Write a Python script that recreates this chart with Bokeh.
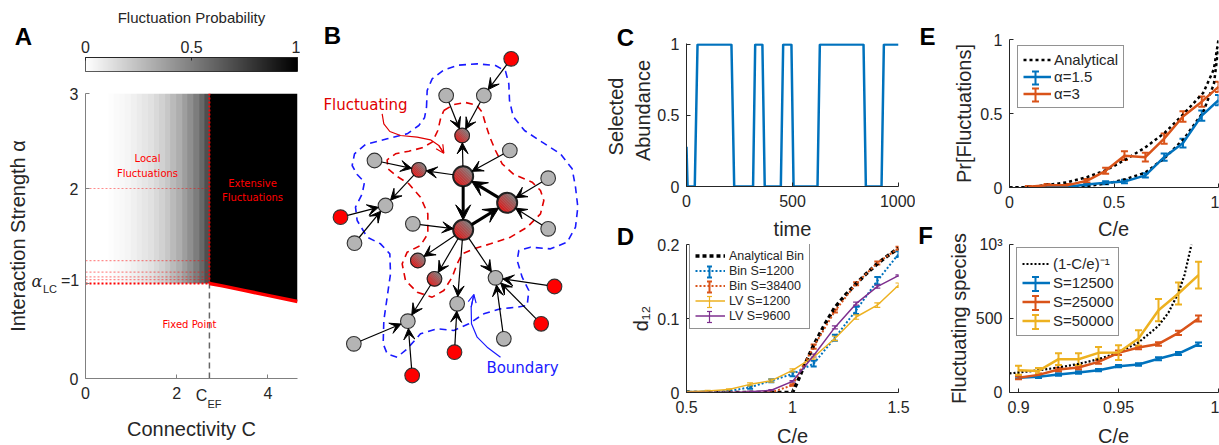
import math
import numpy as np
from bokeh.plotting import figure
from bokeh.layouts import row, column
from bokeh.models import (Range1d, Label, Legend, LegendItem, Whisker, TeeHead,
                          ColumnDataSource, FixedTicker, LinearColorMapper, Arrow,
                          VeeHead, OpenHead, GridBox)
from bokeh.palettes import Greys256
from bokeh.embed import file_html
from bokeh.resources import INLINE

FONT = "Liberation Sans"
DFONT = "DejaVu Sans"
AX = "#262626"
BLUE, ORANGE, YELLOW, PURPLE = "#0072BD", "#D95319", "#EDB120", "#7E2F8E"

# ======================= DATA =======================
# --- A: phase diagram ---
C_max = 4.65
C_EF = 2.718
alpha_LC = 1.0
alpha_max = 3.0
grad_C = [0.000, 0.125, 0.250, 0.375, 0.500, 0.625, 0.750, 0.875, 1.000, 1.125, 1.250,
          1.375, 1.500, 1.625, 1.750, 1.875, 2.000, 2.125, 2.250, 2.375, 2.500, 2.625]
grad_prob = [0.0, 0.0, 0.0, 0.0, 0.01, 0.02, 0.03, 0.04, 0.06, 0.08, 0.10,
             0.12, 0.15, 0.18, 0.22, 0.27, 0.32, 0.38, 0.44, 0.51, 0.59, 0.69]
bound_C = [2.718, 3.0, 3.5, 4.0, 4.65]
bound_alpha = [1.0, 0.975, 0.925, 0.875, 0.81]
local_alpha = [2.0, 1.24, 1.12, 1.07, 1.04, 1.0]
cbar_ticks = [0, 0.5, 1]

# --- B: network diagram (diagram units) ---
node_x = [632, 437, 550, 485, 628, 222, 355, 488, 743, 620, 255, 120, 337, 488,
          743, 162, 352, 402, 585, 762, 470, 322, 722, 160, 610, 462, 335]
node_y = [85, 195, 195, 315, 360, 390, 418, 437, 443, 517, 525, 560, 580, 598,
          595, 638, 690, 745, 742, 768, 820, 872, 880, 940, 925, 965, 1035]
node_kind = ["red", "gray", "gray", "fluct", "gray", "gray", "fluct", "hub", "gray",
             "hub", "gray", "red", "gray", "hub", "gray", "gray", "fluct", "fluct",
             "gray", "red", "gray", "gray", "red", "gray", "gray", "red", "red"]
edge_from = [0, 1, 2, 7, 4, 7, 5, 6, 11, 15, 7, 13, 9, 8, 14, 12, 13, 13, 13, 13,
             17, 23, 26, 25, 19, 22, 24]
edge_to = [2, 3, 3, 3, 7, 6, 6, 10, 10, 10, 13, 9, 7, 9, 9, 13, 16, 17, 20, 18,
           21, 21, 21, 20, 18, 18, 18]
edge_heavy = [0, 0, 0, 0, 0, 0, 0, 0, 0, 0, 1, 1, 1, 0, 0, 0, 0, 0, 0, 0,
              0, 0, 0, 0, 0, 0, 0]
fluct_x = [430, 460, 495, 528, 545, 555, 568, 585, 605, 640, 695, 720, 730, 720, 680,
           630, 570, 520, 485, 470, 455, 430, 395, 350, 315, 305, 320, 360, 382, 382,
           360, 325, 290, 262, 260, 285, 325, 365, 395, 412, 420, 430]
fluct_y = [240, 222, 216, 224, 245, 280, 320, 360, 400, 432, 455, 480, 510, 550, 590,
           620, 640, 655, 670, 700, 740, 780, 800, 785, 750, 700, 665, 645, 610, 550,
           500, 460, 438, 415, 388, 370, 362, 352, 335, 300, 265, 240]
bound_x = [378, 380, 395, 430, 475, 530, 585, 615, 625, 627, 638, 672, 725, 780, 815,
           825, 832, 825, 800, 750, 690, 655, 650, 665, 685, 680, 650, 600, 550, 505,
           460, 410, 360, 320, 290, 260, 248, 250, 260, 270, 268, 240, 200, 170, 165,
           185, 192, 170, 155, 162, 195, 260, 320, 355, 372, 378]
bound_y = [230, 180, 145, 118, 104, 100, 105, 122, 160, 210, 258, 300, 335, 370, 415,
           470, 530, 590, 635, 655, 650, 660, 690, 740, 780, 825, 830, 835, 850, 880,
           900, 895, 910, 955, 980, 970, 940, 870, 800, 730, 670, 640, 620, 570, 530,
           490, 455, 432, 405, 370, 342, 325, 310, 285, 262, 230]
fl_ptr_x = [245, 250, 268, 300, 350, 390, 415, 430]
fl_ptr_y = [250, 280, 303, 315, 320, 328, 345, 368]
bd_ptr_x = [600, 560, 530, 513, 512, 520]
bd_ptr_y = [980, 950, 920, 880, 830, 792]

# --- C: time series ---
time_t = [0, 5, 39, 52, 212, 225, 314, 324, 358, 369, 445, 456, 495, 505, 618, 629,
          835, 846, 920, 931, 1000]
abund = [0.28, 0, 0, 1, 1, 0, 0, 1, 1, 0, 0, 1, 1, 0, 0, 1, 1, 0, 0, 1, 1]

# --- D: d12 vs C/e ---
D_x = [0.5, 0.6, 0.7, 0.8, 0.9, 1.0, 1.1, 1.2, 1.3, 1.4, 1.5]
D_anal_x = [0.5, 0.6, 0.7, 0.8, 0.9, 1.0, 1.02, 1.05, 1.1, 1.15, 1.2, 1.25, 1.3, 1.35,
            1.4, 1.45, 1.5]
D_anal_y = [0, 0, 0, 0, 0, 0, 0.012, 0.033, 0.064, 0.091, 0.115, 0.132, 0.147, 0.161,
            0.174, 0.185, 0.195]
D_bin1200 = [0.001, 0.001, 0.002, 0.007, 0.016, 0.025, 0.039, 0.074, 0.111, 0.151, 0.187]
D_bin1200_err = [0.001, 0.001, 0.001, 0.002, 0.002, 0.003, 0.004, 0.004, 0.005, 0.005, 0.004]
D_bin38400 = [0, 0, 0, 0, 0, 0.01, 0.062, 0.11, 0.147, 0.175, 0.195]
D_bin38400_err = [0, 0, 0, 0, 0, 0.001, 0.003, 0.002, 0.002, 0.002, 0.002]
D_lv1200 = [0.001, 0.002, 0.004, 0.011, 0.016, 0.03, 0.048, 0.073, 0.102, 0.118, 0.145]
D_lv1200_err = [0.001, 0.001, 0.001, 0.002, 0.002, 0.002, 0.003, 0.003, 0.003, 0.003, 0.003]
D_lv9600 = [0, 0, 0, 0.001, 0.003, 0.015, 0.05, 0.088, 0.12, 0.143, 0.158]
D_lv9600_err = [0, 0, 0, 0.001, 0.001, 0.001, 0.002, 0.002, 0.002, 0.002, 0.001]

# --- E: Pr[Fluctuations] ---
E_x = [0.09, 0.18, 0.28, 0.37, 0.46, 0.55, 0.65, 0.74, 0.83, 0.92, 1.0]
E_a15 = [0.0, 0.002, 0.005, 0.02, 0.032, 0.04, 0.082, 0.205, 0.3, 0.486, 0.59]
E_a15_err = [0.002, 0.003, 0.004, 0.008, 0.01, 0.012, 0.015, 0.025, 0.03, 0.035, 0.035]
E_a3 = [0.005, 0.015, 0.016, 0.045, 0.113, 0.215, 0.205, 0.33, 0.48, 0.58, 0.68]
E_a3_err = [0.005, 0.008, 0.008, 0.012, 0.02, 0.03, 0.03, 0.035, 0.035, 0.035, 0.035]
E_an_hi_x = [0, 0.1, 0.17, 0.276, 0.371, 0.467, 0.557, 0.649, 0.743, 0.835, 0.927, 0.978, 1.0]
E_an_hi_y = [0, 0.003, 0.015, 0.035, 0.07, 0.12, 0.19, 0.27, 0.37, 0.5, 0.64, 0.8, 1.0]
E_an_lo_x = [0, 0.2, 0.3, 0.371, 0.467, 0.557, 0.649, 0.743, 0.835, 0.927, 0.978, 1.0]
E_an_lo_y = [0, 0, 0.003, 0.01, 0.027, 0.057, 0.1, 0.2, 0.33, 0.51, 0.7, 0.95]

# --- F: Fluctuating species ---
F_x = [0.90, 0.91, 0.92, 0.93, 0.94, 0.95, 0.96, 0.97, 0.98, 0.99]
F_s12500 = [99, 106, 122, 135, 151, 178, 189, 228, 263, 326]
F_s12500_err = [8, 8, 8, 8, 8, 8, 8, 10, 10, 12]
F_s25000 = [99, 119, 155, 169, 207, 268, 304, 328, 403, 500]
F_s25000_err = [10, 10, 12, 12, 12, 15, 12, 12, 15, 20]
F_s50000 = [150, 146, 225, 225, 268, 270, 365, 556, 669, 793]
F_s50000_err = [30, 20, 40, 40, 40, 50, 55, 75, 75, 90]
F_an_x = [0.8955, 0.90, 0.91, 0.92, 0.93, 0.94, 0.95, 0.96, 0.97, 0.975, 0.98, 0.983, 0.9865]
F_an_y = [129, 135, 150, 169, 193, 225, 270, 338, 450, 540, 675, 794, 1000]

# ======================= LAYOUT (page px) =======================
PAGE_W, PAGE_H = 1219, 445
FR = {
    "CB": (85, 297, 57, 71), "A": (85, 297, 93, 378), "B": (300, 600, 0, 445),
    "C": (686, 898, 43, 186), "D": (686, 898, 244, 392),
    "E": (1008, 1218, 39, 187), "F": (1009, 1218, 244, 392),
}
CV = {
    "CB": (0, 300, 0, 80), "A": (0, 300, 80, 445), "B": (300, 600, 0, 445),
    "C": (600, 915, 0, 222), "D": (600, 915, 222, 445),
    "E": (915, 1219, 0, 222), "F": (915, 1219, 222, 445),
}
RG = {
    "CB": ((0, 1), (0, 1)), "A": ((0, C_max), (0, alpha_max)),
    "B": ((0, 900), (1245, -90)),
    "C": ((0, 1000), (0, 1.007)), "D": ((0.5, 1.5), (0, 0.2)),
    "E": ((0, 1), (0, 1)), "F": ((0.8955, 1.0), (0, 1000)),
}
# legend geometry: location, font px, glyph width, row height, padding, standoff
LEG = {
    "D": dict(loc=(3, 63), fs=12.5, gw=30, gh=15, pad=5, so=4),
    "E": dict(loc=(8, 79), fs=15, gw=28, gh=17, pad=5, so=3),
    "F": dict(loc=(7, 56), fs=15, gw=28, gh=19, pad=5, so=3),
}


def mk(key, **kw):
    L, R, T, B = FR[key]
    x0, x1, y0, y1 = CV[key]
    xr, yr = RG[key]
    p = figure(width=x1 - x0, height=y1 - y0, x_range=Range1d(*xr), y_range=Range1d(*yr),
               min_border_left=L - x0, min_border_right=x1 - R,
               min_border_top=T - y0, min_border_bottom=y1 - B,
               output_backend="svg", toolbar_location=None, **kw)
    p.outline_line_color = None
    p.xgrid.visible = False
    p.ygrid.visible = False
    p.background_fill_color = "white"
    p.border_fill_color = "white"
    return p


# transparent overlay covering the whole page, in page pixel units, holds all texts
pT = figure(width=PAGE_W, height=PAGE_H, x_range=Range1d(0, PAGE_W),
            y_range=Range1d(PAGE_H, 0), min_border=0, x_axis_type=None, y_axis_type=None,
            output_backend="svg", toolbar_location=None)
pT.outline_line_color = None
pT.background_fill_alpha = 0
pT.border_fill_alpha = 0


def txt(wx, wy, text, size, color=AX, angle=0, align="center",
        baseline="middle", font=FONT, style="normal"):
    pT.add_layout(Label(x=wx, y=wy, text=text, text_font=font, text_font_size=f"{size}px",
                        text_color=color, angle=angle, text_align=align,
                        text_baseline=baseline, text_font_style=style))


def style_axes(p, xt, yt, xo=None, yo=None, acolor=AX):
    pairs = []
    if len(p.xaxis):
        pairs.append((p.xaxis[0], xt, xo, 8))
    if len(p.yaxis):
        pairs.append((p.yaxis[0], yt, yo, 7))
    for ax, t, o, so in pairs:
        ax.ticker = FixedTicker(ticks=t)
        if o:
            ax.major_label_overrides = o
        ax.axis_line_color = acolor
        ax.axis_line_width = 1
        ax.major_tick_line_color = acolor
        ax.major_tick_in = 4
        ax.major_tick_out = 0
        ax.minor_tick_line_color = None
        ax.major_label_text_font = FONT
        ax.major_label_text_font_size = "16px"
        ax.major_label_text_color = AX
        ax.major_label_standoff = so


def errbars(p, x, y, e, color, width=1.5, head=7):
    src = ColumnDataSource(dict(x=x, lo=[a - b for a, b in zip(y, e)],
                                hi=[a + b for a, b in zip(y, e)]))
    w = Whisker(source=src, base="x", upper="hi", lower="lo", dimension="height",
                line_color=color, line_width=width,
                upper_head=TeeHead(size=head, line_color=color, line_width=width),
                lower_head=TeeHead(size=head, line_color=color, line_width=width))
    p.add_layout(w)


def legend(p, key, items):
    g = LEG[key]
    leg = Legend(items=[LegendItem(label=l, renderers=r) for l, r in items],
                 location=g["loc"], label_text_font=FONT,
                 label_text_font_size=f"{g['fs']}px", label_text_color=AX,
                 glyph_width=g["gw"], glyph_height=g["gh"], label_height=g["gh"],
                 spacing=0, padding=g["pad"], margin=0, label_standoff=g["so"],
                 border_line_color=AX, border_line_width=1,
                 background_fill_color="white", background_fill_alpha=1)
    p.add_layout(leg)


def legend_bars(key, n, rows, colors, widths, h, cap):
    """error-bar 'I' symbols drawn over the legend glyphs"""
    g = LEG[key]
    L, R, T, B = FR[key]
    cx = L + g["loc"][0] + g["pad"] + g["gw"] / 2
    top = B - g["loc"][1] - (2 * g["pad"] + n * g["gh"])
    x0, y0, x1, y1, cs, ws = [], [], [], [], [], []
    for r, c, w in zip(rows, colors, widths):
        cy = top + g["pad"] + (r + 0.5) * g["gh"]
        for a in ((cx, cy - h / 2, cx, cy + h / 2),
                  (cx - cap / 2, cy - h / 2, cx + cap / 2, cy - h / 2),
                  (cx - cap / 2, cy + h / 2, cx + cap / 2, cy + h / 2)):
            x0.append(a[0]); y0.append(a[1]); x1.append(a[2]); y1.append(a[3])
            cs.append(c); ws.append(w)
    pT.segment(x0=x0, y0=y0, x1=x1, y1=y1, line_color=cs, line_width=ws)


gray_r = list(Greys256)[::-1]

# ======================= COLORBAR =======================
pCB = mk("CB", x_axis_location="above", y_axis_type=None)
cmap = LinearColorMapper(palette=gray_r, low=0, high=1)
pCB.image(image=[np.linspace(0, 1, 256).reshape(1, -1)], x=0, y=0, dw=1, dh=1,
          color_mapper=cmap)
style_axes(pCB, cbar_ticks, [], xo={0: "0", 0.5: "0.5", 1: "1"})
pCB.xaxis.major_tick_in = 3
pCB.xaxis.major_label_standoff = 5
pCB.outline_line_color = AX
pCB.outline_line_width = 1
txt(191, 17, "Fluctuation Probability", 15)
txt(23, 36, "A", 24, color="black", style="bold")

# ======================= A =======================
pA = mk("A")
pA.image(image=[np.array(grad_prob).reshape(1, -1)], x=0, y=alpha_LC, dw=C_EF,
         dh=alpha_max - alpha_LC, color_mapper=LinearColorMapper(palette=gray_r, low=0, high=1))
pA.varea(x=bound_C, y1=bound_alpha, y2=[alpha_max] * len(bound_C), fill_color="black")
pA.segment(x0=[0] * len(local_alpha), y0=local_alpha, x1=[C_EF] * len(local_alpha),
           y1=local_alpha, line_color="#ff0000",
           line_alpha=[0.45] * (len(local_alpha) - 1) + [1.0],
           line_width=[1.2] * (len(local_alpha) - 1) + [2.0], line_dash="2 2")
pA.segment(x0=[C_EF], y0=[alpha_LC], x1=[C_EF], y1=[alpha_max], line_color="#ff0000",
           line_width=2, line_dash="2 2")
pA.segment(x0=[C_EF], y0=[0], x1=[C_EF], y1=[alpha_LC], line_color="#666666",
           line_width=1.5, line_dash="6 4")
pA.line(bound_C, bound_alpha, line_color="#ff0000", line_width=3.5)
style_axes(pA, [0, 2, 4], [0, 1, 2, 3], yo={1: ""}, acolor="#808080")
txt(147, 158, "Local", 10, color="#ff0000", font=DFONT)
txt(147, 173, "Fluctuations", 10, color="#ff0000", font=DFONT)
txt(252, 183, "Extensive", 10, color="#ff0000", font=DFONT)
txt(252, 197, "Fluctuations", 10, color="#ff0000", font=DFONT)
txt(189, 324, "Fixed Point", 10, color="#ff0000", font=DFONT)
txt(201, 395, "C", 16)
txt(207, 403, "EF", 11, align="left")
txt(31, 281, "α", 16, align="left", font="DejaVu Serif", style="italic")
txt(42.5, 288, "LC", 11, align="left")
txt(60.5, 280, "=1", 16, align="left")
txt(17.5, 235.5, "Interaction Strength α", 20, angle=math.pi / 2)
txt(191, 428, "Connectivity C", 20)

# ======================= B =======================
pB = mk("B", x_axis_type=None, y_axis_type=None)
pB.line(bound_x, bound_y, line_color="#1a1aff", line_width=1.6, line_dash="7 5")
pB.line(fluct_x, fluct_y, line_color="#e00000", line_width=1.6, line_dash="7 5")
pB.line(fl_ptr_x, fl_ptr_y, line_color="#e00000", line_width=1.2)
pB.line(bd_ptr_x, bd_ptr_y, line_color="#1a1aff", line_width=1.2)
pB.add_layout(Arrow(end=OpenHead(size=8, line_color="#e00000", line_width=1.2),
                    x_start=fl_ptr_x[-2], y_start=fl_ptr_y[-2], x_end=fl_ptr_x[-1],
                    y_end=fl_ptr_y[-1], line_color="#e00000", line_width=1.2))
pB.add_layout(Arrow(end=OpenHead(size=8, line_color="#1a1aff", line_width=1.2),
                    x_start=bd_ptr_x[-2], y_start=bd_ptr_y[-2], x_end=bd_ptr_x[-1],
                    y_end=bd_ptr_y[-1], line_color="#1a1aff", line_width=1.2))

rad = [30 if k == "hub" else 22 for k in node_kind]
for heavy in (0, 1):
    xs, ys, xe, ye = [], [], [], []
    for i, j, h in zip(edge_from, edge_to, edge_heavy):
        if h != heavy:
            continue
        dx, dy = node_x[j] - node_x[i], node_y[j] - node_y[i]
        d = math.hypot(dx, dy)
        ux, uy = dx / d, dy / d
        xs.append(node_x[i] + ux * rad[i]); ys.append(node_y[i] + uy * rad[i])
        xe.append(node_x[j] - ux * rad[j]); ye.append(node_y[j] - uy * rad[j])
    lw = 3.0 if heavy else 1.2
    hs = 15 if heavy else 11
    pB.add_layout(Arrow(end=VeeHead(size=hs, fill_color="black", line_color="black"),
                        source=ColumnDataSource(dict(xs=xs, ys=ys, xe=xe, ye=ye)),
                        x_start="xs", y_start="ys", x_end="xe", y_end="ye",
                        line_color="black", line_width=lw))

plain = [i for i, k in enumerate(node_kind) if k in ("red", "gray")]
pB.circle(x=[node_x[i] for i in plain], y=[node_y[i] for i in plain],
          radius=[rad[i] for i in plain],
          fill_color=["#ff0000" if node_kind[i] == "red" else "#b4b4b4" for i in plain],
          line_color="#333333", line_width=1.1)
K = 10
c_red, c_gray = (225, 20, 20), (125, 125, 125)
ux, uy = 1 / math.sqrt(2), -1 / math.sqrt(2)
wx_, wy_ = 1 / math.sqrt(2), 1 / math.sqrt(2)
gxs, gys, gcol = [], [], []
grad_nodes = [i for i, k in enumerate(node_kind) if k in ("fluct", "hub")]
for i in grad_nodes:
    r = rad[i]
    for k in range(K):
        s0, s1 = -r + 2 * r * k / K, -r + 2 * r * (k + 1) / K
        a1, a0 = math.acos(max(-1, min(1, s1 / r))), math.acos(max(-1, min(1, s0 / r)))
        th = list(np.linspace(a1, a0, 8)) + list(np.linspace(-a0, -a1, 8))
        gxs.append([node_x[i] + r * (math.cos(t) * ux + math.sin(t) * wx_) for t in th])
        gys.append([node_y[i] + r * (math.cos(t) * uy + math.sin(t) * wy_) for t in th])
        f = (k + 0.5) / K
        c = tuple(int(a + (b - a) * f) for a, b in zip(c_red, c_gray))
        gcol.append("#%02x%02x%02x" % c)
pB.patches(gxs, gys, fill_color=gcol, line_color=gcol, line_width=0.5)
pB.circle(x=[node_x[i] for i in grad_nodes], y=[node_y[i] for i in grad_nodes],
          radius=[rad[i] for i in grad_nodes], fill_color=None, line_color="#222222",
          line_width=[2.0 if node_kind[i] == "hub" else 1.1 for i in grad_nodes])
txt(332, 35, "B", 24, color="black", style="bold")
txt(365, 104, "Fluctuating", 15, color="#e00000", font=DFONT)
txt(522, 367, "Boundary", 15, color="#1a1aff", font=DFONT)

# ======================= C =======================
pC = mk("C")
pC.line(time_t, abund, line_color=BLUE, line_width=2.5)
style_axes(pC, [0, 500, 1000], [0, 0.5, 1], yo={0: "0", 0.5: "0.5", 1: "1"})
txt(625, 37, "C", 24, color="black", style="bold")
txt(615, 116, "Selected", 20, angle=math.pi / 2)
txt(642, 110, "Abundance", 20, angle=math.pi / 2)
txt(792, 228, "time", 20)

# ======================= D =======================
pD = mk("D")
rDa = pD.line(D_anal_x, D_anal_y, line_color="black", line_width=3.5, line_dash="4 3")
rD1 = pD.line(D_x, D_bin1200, line_color=BLUE, line_width=2, line_dash="2 2")
errbars(pD, D_x, D_bin1200, D_bin1200_err, BLUE, 2, 6)
rD2 = pD.line(D_x, D_bin38400, line_color=ORANGE, line_width=2, line_dash="2 2")
errbars(pD, D_x, D_bin38400, D_bin38400_err, ORANGE, 2, 6)
rD3 = pD.line(D_x, D_lv1200, line_color=YELLOW, line_width=1.5)
errbars(pD, D_x, D_lv1200, D_lv1200_err, YELLOW, 1.2, 6)
rD4 = pD.line(D_x, D_lv9600, line_color=PURPLE, line_width=1.5)
errbars(pD, D_x, D_lv9600, D_lv9600_err, PURPLE, 1.2, 6)
style_axes(pD, [0.5, 1, 1.5], [0, 0.1, 0.2], xo={0.5: "0.5", 1: "1", 1.5: "1.5"},
           yo={0: "0", 0.1: "0.1", 0.2: "0.2"})
legend(pD, "D", [("Analytical Bin", [rDa]), ("Bin S=1200", [rD1]),
                 ("Bin S=38400", [rD2]), ("LV S=1200", [rD3]), ("LV S=9600", [rD4])])
legend_bars("D", 5, [1, 2, 3, 4], [BLUE, ORANGE, YELLOW, PURPLE], [2, 2, 1.2, 1.2], 11, 5)
txt(625, 236, "D", 24, color="black", style="bold")
txt(640, 318, "d₁₂", 20, angle=math.pi / 2)
txt(792, 435, "C/e", 20)

# ======================= E =======================
pE = mk("E")
rEa = pE.line(E_an_hi_x, E_an_hi_y, line_color="black", line_width=2.5, line_dash="3 3")
pE.line(E_an_lo_x, E_an_lo_y, line_color="black", line_width=2.5, line_dash="3 3")
rE1 = pE.line(E_x, E_a15, line_color=BLUE, line_width=2.5)
errbars(pE, E_x, E_a15, E_a15_err, BLUE, 2, 7)
rE2 = pE.line(E_x, E_a3, line_color=ORANGE, line_width=2.5)
errbars(pE, E_x, E_a3, E_a3_err, ORANGE, 2, 7)
style_axes(pE, [0, 0.5, 1], [0, 0.5, 1], xo={0: "0", 0.5: "0.5", 1: "1"},
           yo={0: "0", 0.5: "0.5", 1: "1"})
legend(pE, "E", [("Analytical", [rEa]), ("α=1.5", [rE1]), ("α=3", [rE2])])
legend_bars("E", 3, [1, 2], [BLUE, ORANGE], [2, 2], 13, 7)
txt(927, 36, "E", 24, color="black", style="bold")
txt(963, 113, "Pr[Fluctuations]", 20, angle=math.pi / 2)
txt(1113, 228, "C/e", 20)

# ======================= F =======================
pF = mk("F")
rFa = pF.line(F_an_x, F_an_y, line_color="black", line_width=2.2, line_dash="2 2")
rF1 = pF.line(F_x, F_s12500, line_color=BLUE, line_width=2.5)
errbars(pF, F_x, F_s12500, F_s12500_err, BLUE, 2, 7)
rF2 = pF.line(F_x, F_s25000, line_color=ORANGE, line_width=2.5)
errbars(pF, F_x, F_s25000, F_s25000_err, ORANGE, 2, 7)
rF3 = pF.line(F_x, F_s50000, line_color=YELLOW, line_width=2.5)
errbars(pF, F_x, F_s50000, F_s50000_err, YELLOW, 2, 7)
style_axes(pF, [0.9, 0.95, 1.0], [0, 500, 1000], xo={0.9: "0.9", 0.95: "0.95", 1.0: "1"},
           yo={1000: "10³"})
legend(pF, "F", [("(1-C/e)⁻¹", [rFa]), ("S=12500", [rF1]), ("S=25000", [rF2]),
                 ("S=50000", [rF3])])
legend_bars("F", 4, [1, 2, 3], [BLUE, ORANGE, YELLOW], [2, 2, 2], 14, 7)
txt(925, 235, "F", 24, color="black", style="bold")
txt(958, 318, "Fluctuating species", 20, angle=math.pi / 2)
txt(1113, 435, "C/e", 20)

panels = row(column(pCB, pA), pB, column(pC, pD), column(pE, pF))
layout = GridBox(children=[(panels, 0, 0), (pT, 0, 0)])
open("out.html", "w").write(file_html(layout, INLINE))
